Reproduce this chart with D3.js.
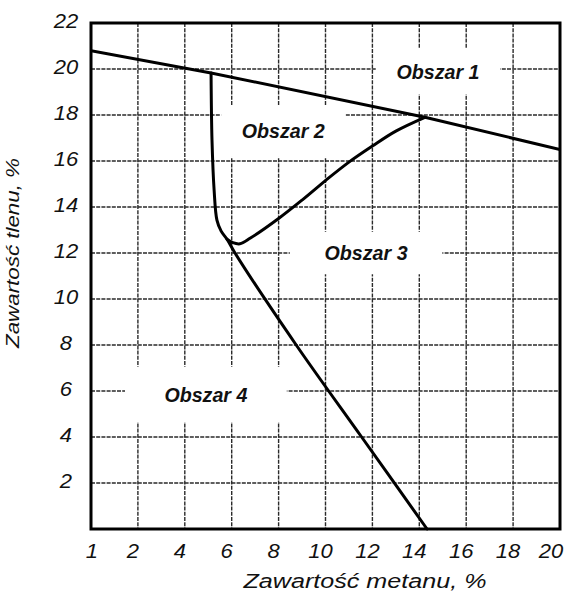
<!DOCTYPE html>
<html lang="pl">
<head>
<meta charset="UTF-8">
<title>Obszary wybuchowości metanu</title>
<style>
  body { margin: 0; background: #fff; }
  text { font-family: "Liberation Sans", Arial, sans-serif; font-style: italic; fill: #111; }
  .grid line { stroke: #2a2a2a; stroke-width: 1.4px; stroke-dasharray: 4 1.2; }
  .curve { fill: none; stroke: #000; stroke-width: 3px; stroke-linejoin: round; stroke-linecap: round; }
  .region { font-weight: bold; font-size: 20px; }
</style>
</head>
<body>
<div id="chart"></div>
<script src="https://d3js.org/d3.v7.min.js"></script>
<script>
// osie
const xTicks = [0, 2, 4, 6, 8, 10, 12, 14, 16, 18, 20];
const xTickLabels = ["1", "2", "4", "6", "8", "10", "12", "14", "16", "18", "20"];
const yTicks = [2, 4, 6, 8, 10, 12, 14, 16, 18, 20, 22];
const xTitle = "Zawartość metanu, %";
const yTitle = "Zawartość tlenu, %";

// linie graniczne [metan, tlen]
const topLine = [[0, 20.8], [5.12, 19.83], [14.24, 17.9], [20, 16.5]];
const leftCurve = [[5.12, 19.83], [5.16, 16.9], [5.25, 14.74], [5.37, 13.43],
  [5.55, 12.95], [5.8, 12.6], [6.14, 12.0], [8.75, 8], [11.54, 4], [14.33, 0]];
const lowerCurve = [[5.8, 12.6], [6.05, 12.45], [6.35, 12.4], [6.8, 12.65],
  [8, 13.5], [9, 14.3], [10, 15.15], [11, 15.95], [12, 16.65], [13, 17.3], [14.24, 17.9]];

// opisy obszarów: położenie i przerwa w siatce (w jednostkach osi)
const regionNames = ["Obszar 1", "Obszar 2", "Obszar 3", "Obszar 4"];
const regionX = [14.8, 8.2, 11.73, 4.9];
const regionY = [19.9, 17.3, 12.0, 5.85];
const gapW = [5.3, 5.3, 6.5, 6.9];
const gapH = [2.0, 2.25, 1.85, 2.4];

const W = 568, H = 595;
const svg = d3.select("#chart").append("svg")
  .attr("width", W).attr("height", H);

const x = d3.scaleLinear().domain([0, 20]).range([91, 560]);
const y = d3.scaleLinear().domain([0, 22]).range([529, 23]);

// siatka
const grid = svg.append("g").attr("class", "grid");
grid.selectAll(".vx").data(xTicks.slice(1, -1)).enter().append("line")
  .attr("x1", d => x(d)).attr("x2", d => x(d))
  .attr("y1", y(22)).attr("y2", y(0));
grid.selectAll(".hy").data(yTicks.slice(0, -1)).enter().append("line")
  .attr("x1", x(0)).attr("x2", x(20))
  .attr("y1", d => y(d)).attr("y2", d => y(d));

// przerwy w siatce wokół napisów
const scx = x(1) - x(0), scy = y(0) - y(1);
svg.selectAll(".gap").data(regionNames).enter().append("rect")
  .attr("x", (d, i) => x(regionX[i]) - gapW[i] / 2 * scx)
  .attr("y", (d, i) => y(regionY[i]) - gapH[i] / 2 * scy)
  .attr("width", (d, i) => gapW[i] * scx)
  .attr("height", (d, i) => gapH[i] * scy)
  .attr("fill", "#fff");

svg.append("clipPath").attr("id", "plotClip").append("rect")
  .attr("x", x(0)).attr("y", y(22)).attr("width", x(20) - x(0)).attr("height", y(0) - y(22));

// krzywe
const line = d3.line().x(d => x(d[0])).y(d => y(d[1]));
const smooth = d3.line().x(d => x(d[0])).y(d => y(d[1])).curve(d3.curveCatmullRom.alpha(0.5));

svg.append("path").attr("class", "curve").attr("d", line(topLine))
  .attr("clip-path", "url(#plotClip)");
svg.append("path").attr("class", "curve").attr("d", smooth(leftCurve));
svg.append("path").attr("class", "curve").attr("d", smooth(lowerCurve));

// ramka
svg.append("rect")
  .attr("x", x(0)).attr("y", y(22))
  .attr("width", x(20) - x(0)).attr("height", y(0) - y(22))
  .attr("fill", "none").attr("stroke", "#000").attr("stroke-width", 3);

// opisy osi
const xl = svg.append("g");
xl.selectAll("text").data(xTicks).enter().append("text")
  .attr("x", (d, i) => x(d) + (i === 0 ? 1 : i === xTicks.length - 1 ? -9 : -5))
  .attr("y", 558)
  .attr("text-anchor", "middle")
  .style("font-size", "20px")
  .text((d, i) => xTickLabels[i]);

const yl = svg.append("g");
yl.selectAll("text").data(yTicks).enter().append("text")
  .attr("x", 66)
  .attr("y", d => y(d) - 2)
  .attr("dy", "0.36em")
  .attr("text-anchor", "middle")
  .style("font-size", "20px")
  .text(d => d);

// lekkie poszerzenie cyfr jak w oryginale
svg.selectAll("g text").each(function () {
  const t = d3.select(this);
  t.attr("textLength", this.getComputedTextLength() * 1.1).attr("lengthAdjust", "spacingAndGlyphs");
});

svg.append("text")
  .attr("x", 365).attr("y", 588)
  .attr("text-anchor", "middle")
  .style("font-size", "20px")
  .attr("textLength", 243).attr("lengthAdjust", "spacingAndGlyphs")
  .text(xTitle);

svg.append("text")
  .attr("transform", "translate(19,253) rotate(-90)")
  .attr("text-anchor", "middle")
  .style("font-size", "19px")
  .attr("textLength", 190).attr("lengthAdjust", "spacingAndGlyphs")
  .text(yTitle);

// nazwy obszarów
svg.selectAll(".region").data(regionNames).enter().append("text")
  .attr("class", "region")
  .attr("x", (d, i) => x(regionX[i]))
  .attr("y", (d, i) => y(regionY[i]))
  .attr("dy", "0.36em")
  .attr("text-anchor", "middle")
  .attr("textLength", 83).attr("lengthAdjust", "spacingAndGlyphs")
  .text(d => d);
</script>
</body>
</html>
